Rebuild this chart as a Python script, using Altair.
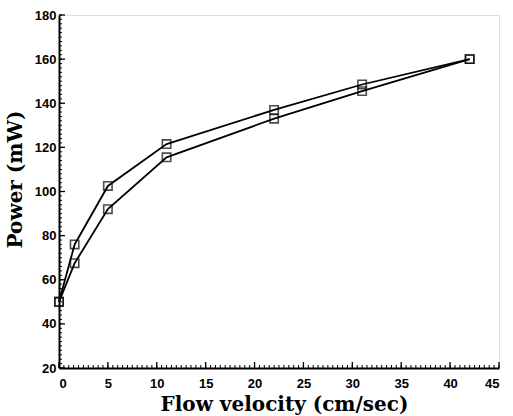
import altair as alt
import pandas as pd

# Flow velocity (cm/sec) and power (mW) for the two curves
velocity = [0, 1.6, 5, 11, 22, 31, 42]
power_upper = [50, 76, 102.5, 121.5, 137, 148.5, 160]
power_lower = [50, 67.5, 92, 115.5, 133, 145.5, 160]

x_major = [0, 5, 10, 15, 20, 25, 30, 35, 40, 45]
y_major = [20, 40, 60, 80, 100, 120, 140, 160, 180]
x_minor = [i * 0.5 for i in range(91)]
y_minor = list(range(20, 181, 2))

PLOT_W, PLOT_H = 440, 353

df = pd.DataFrame(
    {
        "velocity": velocity * 2,
        "power": power_upper + power_lower,
        "series": ["upper"] * len(velocity) + ["lower"] * len(velocity),
    }
)

x_scale = alt.Scale(domain=[0, 45], nice=False, zero=False)
y_scale = alt.Scale(domain=[20, 180], nice=False, zero=False)

label_font = "Liberation Sans"
title_font = "DejaVu Serif"

lines = alt.Chart(df).mark_line(color="black", strokeWidth=1.8).encode(
    x=alt.X(
        "velocity:Q",
        scale=x_scale,
        axis=alt.Axis(
            orient="bottom",
            values=x_major,
            title="Flow velocity (cm/sec)",
            ticks=False,
            tickSize=0,
            grid=False,
            domainColor="black",
            domainWidth=2,
            labelFont=label_font,
            labelFontWeight="bold",
            labelFontSize=13,
            labelColor="black",
            labelPadding=9,
            titleFont=title_font,
            titleFontWeight="bold",
            titleFontSize=20,
            titleColor="black",
            titleX=225,
            titleY=42,
            titleAlign="center",
            titleBaseline="alphabetic",
        ),
    ),
    y=alt.Y(
        "power:Q",
        scale=y_scale,
        axis=alt.Axis(
            orient="left",
            values=y_major,
            title="Power (mW)",
            ticks=False,
            tickSize=0,
            grid=False,
            domainColor="black",
            domainWidth=2,
            labelFont=label_font,
            labelFontWeight="bold",
            labelFontSize=13,
            labelColor="black",
            labelPadding=3,
            titleFont=title_font,
            titleFontWeight="bold",
            titleFontSize=20,
            titleColor="black",
            titleX=-44,
            titleY=164,
            titleAlign="center",
            titleBaseline="middle",
            titleAngle=270,
        ),
    ),
    detail="series:N",
)

points = alt.Chart(df).mark_point(
    shape="square", filled=False, color="black", size=70, strokeWidth=1.6
).encode(
    x=alt.X("velocity:Q", scale=x_scale),
    y=alt.Y("power:Q", scale=y_scale),
)

# Inward tick marks along both axes (major longer, minor shorter)
def x_ticks(values, length, width):
    return alt.Chart(pd.DataFrame({"v": values})).mark_rule(
        color="black", strokeWidth=width
    ).encode(
        x=alt.X("v:Q", scale=x_scale),
        y=alt.value(PLOT_H),
        y2=alt.value(PLOT_H - length),
    )


def y_ticks(values, length, width):
    return alt.Chart(pd.DataFrame({"v": values})).mark_rule(
        color="black", strokeWidth=width
    ).encode(
        y=alt.Y("v:Q", scale=y_scale),
        x=alt.value(0),
        x2=alt.value(length),
    )


chart = (
    alt.layer(
        lines,
        points,
        x_ticks(x_minor, 3, 1),
        x_ticks(x_major, 6, 1.3),
        y_ticks(y_minor, 3, 1),
        y_ticks(y_major, 6, 1.3),
    )
    .properties(
        width=PLOT_W,
        height=PLOT_H,
        autosize=alt.AutoSizeParams(type="none"),
        padding={"left": 59, "top": 15, "right": 14, "bottom": 48},
    )
    .configure_view(stroke=None)
    .configure(background="white")
)

chart.save("out.html", embed_options={"renderer": "svg", "actions": False})
